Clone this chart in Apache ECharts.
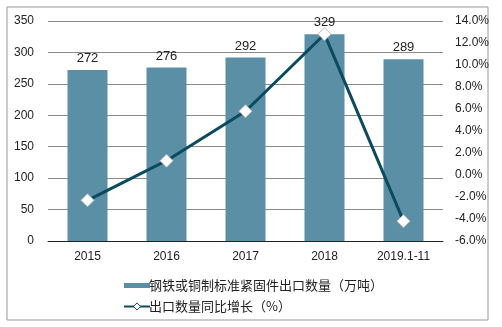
<!DOCTYPE html>
<html><head><meta charset="utf-8">
<script src="https://cdn.jsdelivr.net/npm/echarts@6/dist/echarts.min.js"></script>
<style>html,body{margin:0;padding:0;background:#fff}#c{width:502px;height:327px}</style>
</head><body><div id="c"></div>
<script>
var categories = ['2015', '2016', '2017', '2018', '2019.1-11'];
var exportVolume = [272, 276, 292, 329, 289];
var growthRate = [-2.3, 1.3, 5.8, 12.8, -4.2];
var barName = '钢铁或铜制标准紧固件出口数量（万吨）';
var lineName = '出口数量同比增长（%）';

var chart = echarts.init(document.getElementById('c'));
var font = 'Liberation Sans, Arial, sans-serif';
chart.setOption({
  animation: false,
  textStyle: { fontFamily: font },
  graphic: [{
    type: 'rect', shape: { x: 7, y: 7, width: 481, height: 313 },
    style: { fill: 'none', stroke: '#999', lineWidth: 1 }, z: -1
  }],
  grid: { left: 48, right: 59, top: 21, bottom: 86 },
  legend: {
    orient: 'vertical', left: 118, top: 274, itemGap: 8,
    itemWidth: 26, itemHeight: 9,
    textStyle: { fontSize: 13, color: '#222', fontFamily: 'Noto Sans CJK SC', padding: [0, 0, 0, -6] },
    data: [
      { name: barName, icon: 'path://M0,2H26V7H0Z' },
      { name: lineName, itemStyle: { color: '#ffffff', borderColor: '#0b4a5f', borderWidth: 1 } }
    ]
  },
  xAxis: {
    type: 'category', data: categories,
    axisLine: { lineStyle: { color: '#222', width: 1 } },
    axisTick: { show: false },
    axisLabel: { fontSize: 12, color: '#222', margin: 10 }
  },
  yAxis: [{
    type: 'value', min: 0, max: 350, interval: 50,
    axisLine: { show: false }, axisTick: { show: false },
    axisLabel: { fontSize: 12, color: '#222', margin: 14 },
    splitLine: { lineStyle: { color: '#8a8a8a', width: 1 } }
  }, {
    type: 'value', min: -6, max: 14, interval: 2,
    axisLine: { show: false }, axisTick: { show: false },
    splitLine: { show: false },
    axisLabel: { fontSize: 12, color: '#222', margin: 12,
      formatter: function (v) { return v.toFixed(1) + '%'; } }
  }],
  series: [{
    name: barName, type: 'bar', data: exportVolume, barWidth: 40,
    itemStyle: { color: '#5b8fa5' },
    label: { show: true, position: 'top', distance: 5, fontSize: 13, color: '#222' }
  }, {
    name: lineName, type: 'line', yAxisIndex: 1, data: growthRate,
    symbol: 'diamond', symbolSize: 13,
    lineStyle: { color: '#0b4a5f', width: 3 },
    itemStyle: { color: '#ffffff', borderColor: '#bbbbbb', borderWidth: 1 },
    z: 5
  }]
});
</script></body></html>
